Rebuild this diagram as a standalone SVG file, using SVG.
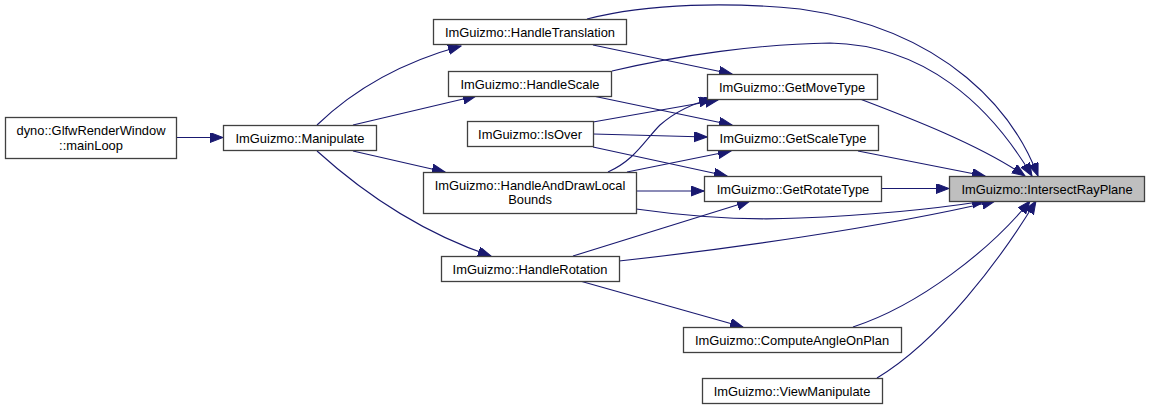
<svg xmlns="http://www.w3.org/2000/svg" width="1149" height="410" viewBox="0 0 1149 410">
<style>
.n rect{fill:#ffffff;stroke:#404040;stroke-width:1.3}
.n.hl rect{fill:#bfbfbf}
.n text{font-family:"Liberation Sans",Arial,sans-serif;font-size:12.9px;fill:#000;text-anchor:middle}
.e path{fill:none;stroke:#191970;stroke-width:1.1;marker-end:url(#ah)}
</style>
<defs>
<marker id="ah" markerUnits="userSpaceOnUse" markerWidth="14" markerHeight="11" refX="13" refY="5" orient="auto">
<path d="M0,0 L13,5 L0,10 z" fill="#191970" stroke="#191970" stroke-width="1"/>
</marker>
</defs>
<rect width="1149" height="410" fill="#ffffff"/>
<g id="connectors" class="e">
<path d="M176,137.5 L223,137.5"/>
<path d="M317,125 C345,98 388,66 461,46"/>
<path d="M353,125 L476,96"/>
<path d="M353,151 L445,172"/>
<path d="M317,151 C360,190 420,232 491,256"/>
<path d="M593,45 L732,74"/>
<path d="M587,19 C650,3 730,2 800,9 C950,30 1015,115 1038,176"/>
<path d="M612,71 C680,55 760,44 830,43 C925,45 990,105 1032,176"/>
<path d="M593,96 L732,125"/>
<path d="M593,122 L718,100"/>
<path d="M608,172 C635,160 645,140 660,125 C675,112 690,104 712,99"/>
<path d="M593,134 L707,137"/>
<path d="M593,147 L727,176"/>
<path d="M627,172 L731,151"/>
<path d="M636,191 L704,191"/>
<path d="M636,209 C700,218 760,220 800,218 C880,215 940,208 985,201"/>
<path d="M573,256 L750,201"/>
<path d="M619,261 C720,250 880,228 995,201"/>
<path d="M580,281 L743,327"/>
<path d="M860,99 C910,118 980,145 1025,176"/>
<path d="M858,151 L985,176"/>
<path d="M881,188.5 L949,188.5"/>
<path d="M853,327 C920,305 990,250 1030,201"/>
<path d="M877,378 C940,340 1000,260 1036,201"/>
</g>
<g id="node-mainLoop" class="n"><rect x="5.5" y="117.5" width="171" height="41"/><text x="91" y="134.5">dyno::GlfwRenderWindow</text><text x="91" y="149.5">::mainLoop</text></g>
<g id="node-Manipulate" class="n"><rect x="223.5" y="125.5" width="153" height="25"/><text x="300" y="142.5">ImGuizmo::Manipulate</text></g>
<g id="node-HandleTranslation" class="n"><rect x="433.5" y="19.5" width="193" height="25"/><text x="530" y="36.5">ImGuizmo::HandleTranslation</text></g>
<g id="node-HandleScale" class="n"><rect x="448.5" y="71.5" width="163" height="25"/><text x="530" y="88.5">ImGuizmo::HandleScale</text></g>
<g id="node-IsOver" class="n"><rect x="467.5" y="121.5" width="126" height="25"/><text x="530" y="138.5">ImGuizmo::IsOver</text></g>
<g id="node-HandleAndDrawLocalBounds" class="n"><rect x="423.5" y="172.5" width="213" height="41"/><text x="530" y="189.5">ImGuizmo::HandleAndDrawLocal</text><text x="530" y="204">Bounds</text></g>
<g id="node-HandleRotation" class="n"><rect x="441.5" y="256.5" width="178" height="25"/><text x="530" y="273.5">ImGuizmo::HandleRotation</text></g>
<g id="node-GetMoveType" class="n"><rect x="707.5" y="74.5" width="170" height="25"/><text x="792" y="91.5">ImGuizmo::GetMoveType</text></g>
<g id="node-GetScaleType" class="n"><rect x="707.5" y="125.5" width="171" height="25"/><text x="793" y="142.5">ImGuizmo::GetScaleType</text></g>
<g id="node-GetRotateType" class="n"><rect x="704.5" y="176.5" width="177" height="25"/><text x="793" y="193.5">ImGuizmo::GetRotateType</text></g>
<g id="node-ComputeAngleOnPlan" class="n"><rect x="683.5" y="327.5" width="218" height="25"/><text x="792" y="344.5">ImGuizmo::ComputeAngleOnPlan</text></g>
<g id="node-ViewManipulate" class="n"><rect x="702.5" y="378.5" width="180" height="25"/><text x="792" y="395.5">ImGuizmo::ViewManipulate</text></g>
<g id="node-IntersectRayPlane" class="n hl"><rect x="949.5" y="176.5" width="195" height="25"/><text x="1047" y="193.5">ImGuizmo::IntersectRayPlane</text></g>
</svg>
